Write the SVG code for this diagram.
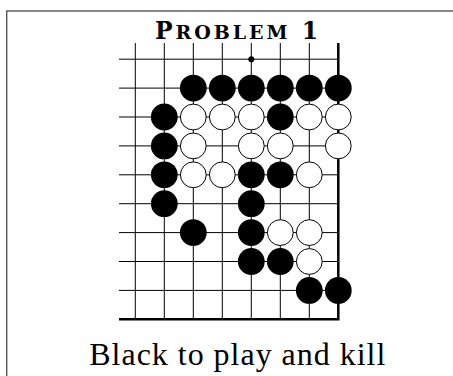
<svg xmlns="http://www.w3.org/2000/svg" width="453" height="376" viewBox="0 0 453 376">
<style>
.g{stroke:#000;stroke-width:1;fill:none}
.e{stroke:#000;stroke-width:2.5;fill:none}
.b{fill:#000}
.w{fill:#fff;stroke:#000;stroke-width:1}
.t{font-family:"Liberation Serif","Times New Roman",serif;fill:#000}
.h{font-family:"DejaVu Serif","Liberation Serif",serif;font-weight:bold;fill:#000}
</style>
<rect x="0" y="0" width="453" height="376" fill="#fff"/>
<rect x="6.7" y="11" width="460" height="380" fill="none" stroke="#555" stroke-width="1.4"/>
<text id="title" class="h" x="155" y="39.3" textLength="163" lengthAdjust="spacing"><tspan font-size="23.5">P</tspan><tspan font-size="19">ROBLEM</tspan><tspan font-size="23.5"> 1</tspan></text>
<g id="grid">
<path class="g" d="M119,59.2H338.3M119,88.1H338.3M119,117H338.3M119,145.9H338.3M119,174.8H338.3M119,203.7H338.3M119,232.6H338.3M119,261.5H338.3M119,290.4H338.3"/>
<path class="g" d="M135.3,43V319.3M164.3,43V319.3M193.3,43V319.3M222.3,43V319.3M251.3,43V319.3M280.3,43V319.3M309.3,43V319.3"/>
<path class="e" d="M338.3,43V320.5M119,319.3H339.5"/>
<circle class="b" cx="251.3" cy="59.2" r="3"/>
</g>
<g id="stones">
<circle class="b" cx="193.3" cy="88.1" r="13.4"/>
<circle class="b" cx="222.3" cy="88.1" r="13.4"/>
<circle class="b" cx="251.3" cy="88.1" r="13.4"/>
<circle class="b" cx="280.3" cy="88.1" r="13.4"/>
<circle class="b" cx="309.3" cy="88.1" r="13.4"/>
<circle class="b" cx="338.3" cy="88.1" r="13.4"/>
<circle class="b" cx="164.3" cy="117" r="13.4"/>
<circle class="w" cx="193.3" cy="117" r="12.9"/>
<circle class="w" cx="222.3" cy="117" r="12.9"/>
<circle class="w" cx="251.3" cy="117" r="12.9"/>
<circle class="b" cx="280.3" cy="117" r="13.4"/>
<circle class="w" cx="309.3" cy="117" r="12.9"/>
<circle class="w" cx="338.3" cy="117" r="12.9"/>
<circle class="b" cx="164.3" cy="145.9" r="13.4"/>
<circle class="w" cx="193.3" cy="145.9" r="12.9"/>
<circle class="w" cx="251.3" cy="145.9" r="12.9"/>
<circle class="w" cx="280.3" cy="145.9" r="12.9"/>
<circle class="w" cx="338.3" cy="145.9" r="12.9"/>
<circle class="b" cx="164.3" cy="174.8" r="13.4"/>
<circle class="w" cx="193.3" cy="174.8" r="12.9"/>
<circle class="w" cx="222.3" cy="174.8" r="12.9"/>
<circle class="b" cx="251.3" cy="174.8" r="13.4"/>
<circle class="b" cx="280.3" cy="174.8" r="13.4"/>
<circle class="w" cx="309.3" cy="174.8" r="12.9"/>
<circle class="b" cx="164.3" cy="203.7" r="13.4"/>
<circle class="b" cx="251.3" cy="203.7" r="13.4"/>
<circle class="b" cx="193.3" cy="232.6" r="13.4"/>
<circle class="b" cx="251.3" cy="232.6" r="13.4"/>
<circle class="w" cx="280.3" cy="232.6" r="12.9"/>
<circle class="w" cx="309.3" cy="232.6" r="12.9"/>
<circle class="b" cx="251.3" cy="261.5" r="13.4"/>
<circle class="b" cx="280.3" cy="261.5" r="13.4"/>
<circle class="w" cx="309.3" cy="261.5" r="12.9"/>
<circle class="b" cx="309.3" cy="290.4" r="13.4"/>
<circle class="b" cx="338.3" cy="290.4" r="13.4"/>
</g>
<text id="caption" class="t" x="89.3" y="365" font-size="32" textLength="296" lengthAdjust="spacing">Black to play and kill</text>
</svg>
